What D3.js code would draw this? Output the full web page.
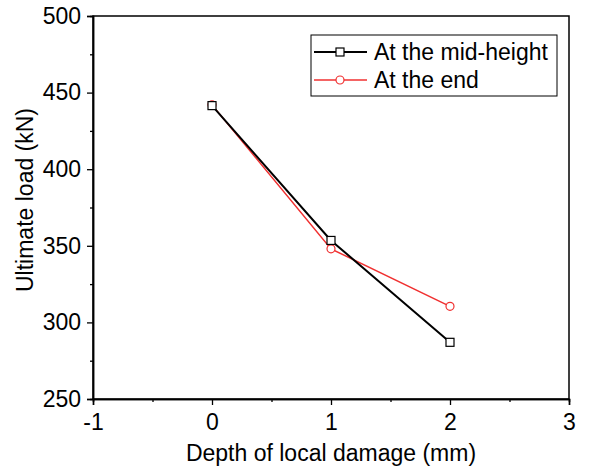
<!DOCTYPE html>
<html>
<head>
<meta charset="utf-8">
<script src="https://cdn.jsdelivr.net/npm/d3@7"></script>
<style>
  body { margin: 0; background: #fff; }
  svg text { font-family: "Liberation Sans", Arial, sans-serif; fill: #000; }
</style>
</head>
<body>
<div id="chart"></div>
<script>
const depths = [0, 1, 2];
const midHeight = [441.5, 353.5, 287];
const atEnd = [442, 348, 310.5];
const xTicks = [-1, 0, 1, 2, 3];
const yTicks = [250, 300, 350, 400, 450, 500];

const width = 592;
const height = 470;
const margin = { left: 93, right: 23, top: 16, bottom: 71 };
const fontSize = 23;

const svg = d3.select('#chart')
              .append('svg')
              .attr('width', width)
              .attr('height', height);

const xScale = d3.scaleLinear()
                 .domain([-1, 3])
                 .range([margin.left, width - margin.right]);

const yScale = d3.scaleLinear()
                 .domain([250, 500])
                 .range([height - margin.bottom, margin.top]);

// frame
svg.append('rect')
   .attr('x', xScale(-1))
   .attr('y', yScale(500))
   .attr('width', xScale(3) - xScale(-1))
   .attr('height', yScale(250) - yScale(500))
   .attr('fill', 'none')
   .attr('stroke', '#000')
   .attr('stroke-width', 1.5);

// x axis, major + minor ticks
svg.append('g')
   .attr('transform', `translate(0,${yScale(250)})`)
   .call(d3.axisBottom(xScale).tickValues(xTicks).tickSize(6).tickPadding(9).tickFormat(d => String(d)));
svg.append('g')
   .attr('transform', `translate(0,${yScale(250)})`)
   .call(d3.axisBottom(xScale).tickValues([-0.5, 0.5, 1.5, 2.5]).tickSize(3).tickFormat(''));

svg.append('g')
   .attr('transform', `translate(${xScale(-1)},0)`)
   .call(d3.axisLeft(yScale).tickValues(yTicks).tickSize(6).tickPadding(6));
svg.append('g')
   .attr('transform', `translate(${xScale(-1)},0)`)
   .call(d3.axisLeft(yScale).tickValues([275, 325, 375, 425, 475]).tickSize(3).tickFormat(''));

svg.selectAll('.domain').attr('stroke', '#000').attr('stroke-width', 1.5);
svg.selectAll('.tick line').attr('stroke', '#000').attr('stroke-width', 1.3);
svg.selectAll('.tick text').attr('font-size', fontSize).attr('font-family', '"Liberation Sans", Arial, sans-serif');

// axis titles
svg.append('text')
   .attr('x', (xScale(-1) + xScale(3)) / 2)
   .attr('y', 461)
   .attr('text-anchor', 'middle')
   .attr('font-size', fontSize)
   .text('Depth of local damage (mm)');

svg.append('text')
   .attr('transform', `translate(33,200) rotate(-90)`)
   .attr('text-anchor', 'middle')
   .attr('font-size', fontSize)
   .text('Ultimate load (kN)');

const line = d3.line()
               .x((d, i) => xScale(depths[i]))
               .y(d => yScale(d));

// red series (at the end)
svg.append('path')
   .datum(atEnd)
   .attr('d', line)
   .attr('fill', 'none')
   .attr('stroke', '#f03030')
   .attr('stroke-width', 1.5);

// black series (mid-height)
svg.append('path')
   .datum(midHeight)
   .attr('d', line)
   .attr('fill', 'none')
   .attr('stroke', '#000')
   .attr('stroke-width', 2);

svg.selectAll('circle.end')
   .data(atEnd)
   .enter()
   .append('circle')
   .attr('class', 'end')
   .attr('cx', (d, i) => xScale(depths[i]))
   .attr('cy', d => yScale(d))
   .attr('r', 4)
   .attr('fill', '#fff')
   .attr('stroke', '#f03030')
   .attr('stroke-width', 1.2);

svg.selectAll('rect.mid')
   .data(midHeight)
   .enter()
   .append('rect')
   .attr('class', 'mid')
   .attr('x', (d, i) => xScale(depths[i]) - 4)
   .attr('y', d => yScale(d) - 4)
   .attr('width', 8)
   .attr('height', 8)
   .attr('fill', '#fff')
   .attr('stroke', '#000')
   .attr('stroke-width', 1.2);

// legend
const legend = svg.append('g');
legend.append('rect')
      .attr('x', 311)
      .attr('y', 35)
      .attr('width', 246)
      .attr('height', 61)
      .attr('fill', '#fff')
      .attr('stroke', '#000')
      .attr('stroke-width', 1);

const legendItems = [
  { label: 'At the mid-height', color: '#000', shape: 'square', y: 52 },
  { label: 'At the end', color: '#f03030', shape: 'circle', y: 80 }
];

legendItems.forEach(item => {
  legend.append('line')
        .attr('x1', 314).attr('x2', 367)
        .attr('y1', item.y).attr('y2', item.y)
        .attr('stroke', item.color)
        .attr('stroke-width', item.shape === 'square' ? 2 : 1.5);
  if (item.shape === 'square') {
    legend.append('rect')
          .attr('x', 336).attr('y', item.y - 4)
          .attr('width', 8).attr('height', 8)
          .attr('fill', '#fff').attr('stroke', '#000').attr('stroke-width', 1.2);
  } else {
    legend.append('circle')
          .attr('cx', 340).attr('cy', item.y).attr('r', 4)
          .attr('fill', '#fff').attr('stroke', item.color).attr('stroke-width', 1.2);
  }
  legend.append('text')
        .attr('x', 374)
        .attr('y', item.y + 7.5)
        .attr('font-size', fontSize)
        .text(item.label);
});
</script>
</body>
</html>
